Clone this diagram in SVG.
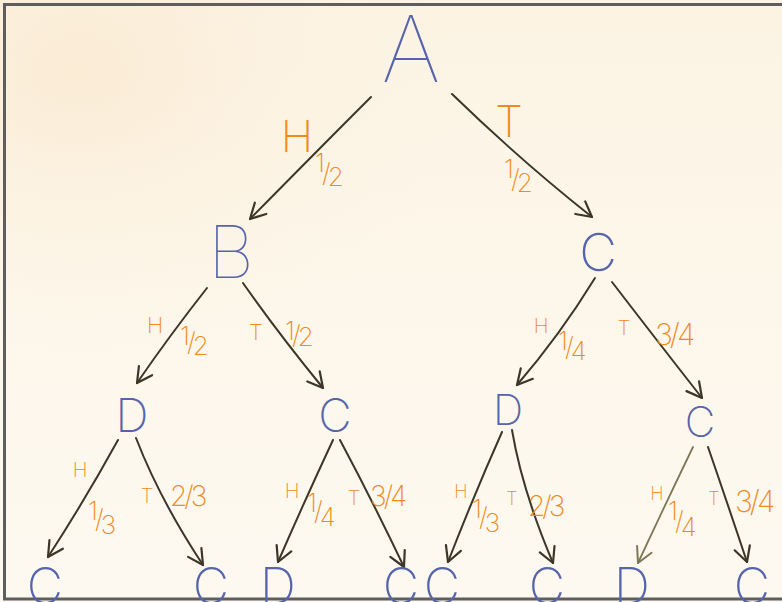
<svg xmlns="http://www.w3.org/2000/svg" width="782" height="602" viewBox="0 0 782 602">
<defs>
<radialGradient id="warm" cx="0.1" cy="0.12" r="0.5">
<stop offset="0" stop-color="#f9e6ca" stop-opacity="0.6"/>
<stop offset="1" stop-color="#fcf3e3" stop-opacity="0"/>
</radialGradient>
<linearGradient id="paper" x1="0" y1="0" x2="0" y2="1">
<stop offset="0" stop-color="#fcf3e3"/>
<stop offset="0.5" stop-color="#fdf7eb"/>
<stop offset="1" stop-color="#fdf9f0"/>
</linearGradient>
<marker id="arr" markerUnits="userSpaceOnUse" markerWidth="30" markerHeight="30" viewBox="-20 -15 30 30" refX="0" refY="0" orient="auto">
<path d="M-15,-8 L0,0 L-15,8" fill="none" stroke="#3b3627" stroke-width="2.2" stroke-linecap="round" stroke-linejoin="round"/>
</marker>
<marker id="arrL" markerUnits="userSpaceOnUse" markerWidth="30" markerHeight="30" viewBox="-20 -15 30 30" refX="0" refY="0" orient="auto">
<path d="M-15,-8 L0,0 L-15,8" fill="none" stroke="#7d7757" stroke-width="2" stroke-linecap="round" stroke-linejoin="round"/>
</marker>
</defs>
<style>
.node{font-family:Inter,"Lato","DejaVu Sans",sans-serif;font-weight:100;fill:#5664ab;text-anchor:middle}
.sm{font-weight:200}
.lab{font-family:Inter,"Lato","DejaVu Sans",sans-serif;font-weight:200;fill:#f08a1c;text-anchor:middle}
.fr{font-family:Inter,"Lato","DejaVu Sans",sans-serif;font-weight:200;fill:#f08a1c;letter-spacing:-3px}
.edge{fill:none;stroke:#3b3627;stroke-width:2;stroke-linecap:round;marker-end:url(#arr)}
.edgeL{fill:none;stroke:#7d7757;stroke-width:1.8;stroke-linecap:round;marker-end:url(#arrL)}
</style>
<rect x="0" y="0" width="782" height="602" fill="url(#paper)"/>
<rect x="0" y="0" width="782" height="602" fill="url(#warm)"/>
<rect x="4.5" y="4.5" width="800" height="594.5" fill="none" stroke="#5e5e5e" stroke-width="3"/>

<g id="connectors">
<path class="edge" d="M371,97 Q318,150 250,219"/>
<path class="edge" d="M452,94 Q520,160 592,217"/>
<path class="edge" d="M207,288 Q170,335 137,383"/>
<path class="edge" d="M243,283 Q278,333 323,388"/>
<path class="edge" d="M595,278 Q560,335 517,385"/>
<path class="edge" d="M612,282 Q655,338 702,398"/>
<path class="edge" d="M118,440 Q85,500 48,557"/>
<path class="edge" d="M136,438 Q160,500 203,565"/>
<path class="edge" d="M333,440 Q305,500 278,562"/>
<path class="edge" d="M340,440 Q372,500 404,567"/>
<path class="edge" d="M502,432 Q474,495 448,562"/>
<path class="edge" d="M512,430 Q522,490 553,563"/>
<path class="edgeL" d="M693,447 Q665,505 638,563"/>
<path class="edge" d="M708,447 Q728,505 747,562"/>
</g>

<g id="labels">
<text class="lab" x="297" y="152" font-size="44">H</text>
<text class="fr" x="315" y="172" font-size="26">1<tspan dy="10">/</tspan><tspan dy="4">2</tspan></text>
<text class="lab" x="509" y="137" font-size="44">T</text>
<text class="fr" x="504" y="178" font-size="26">1<tspan dy="10">/</tspan><tspan dy="4">2</tspan></text>
<text class="lab" x="155" y="333" font-size="22">H</text>
<text class="fr" x="180" y="345" font-size="26">1<tspan dy="6">/</tspan><tspan dy="4">2</tspan></text>
<text class="lab" x="256" y="340" font-size="22">T</text>
<text class="fr" x="285" y="340" font-size="26">1<tspan dy="4">/</tspan><tspan dy="2">2</tspan></text>
<text class="lab" x="541" y="333" font-size="20">H</text>
<text class="fr" x="558" y="350" font-size="26">1<tspan dy="6">/</tspan><tspan dy="4">4</tspan></text>
<text class="lab" x="624" y="335" font-size="20">T</text>
<text class="fr" x="655" y="345" font-size="30">3/4</text>
<text class="lab" x="80" y="477" font-size="20">H</text>
<text class="fr" x="88" y="520" font-size="26">1<tspan dy="8">/</tspan><tspan dy="6">3</tspan></text>
<text class="lab" x="147" y="503" font-size="20">T</text>
<text class="fr" x="170" y="506" font-size="28">2/3</text>
<text class="lab" x="292" y="498" font-size="20">H</text>
<text class="fr" x="307" y="512" font-size="26">1<tspan dy="8">/</tspan><tspan dy="6">4</tspan></text>
<text class="lab" x="354" y="505" font-size="20">T</text>
<text class="fr" x="370" y="506" font-size="28">3/4</text>
<text class="lab" x="461" y="498" font-size="18">H</text>
<text class="fr" x="472" y="518" font-size="26">1<tspan dy="8">/</tspan><tspan dy="6">3</tspan></text>
<text class="lab" x="512" y="505" font-size="18">T</text>
<text class="fr" x="528" y="516" font-size="28">2/3</text>
<text class="lab" x="657" y="500" font-size="18">H</text>
<text class="fr" x="668" y="520" font-size="26">1<tspan dy="10">/</tspan><tspan dy="6">4</tspan></text>
<text class="lab" x="714" y="505" font-size="18">T</text>
<text class="fr" x="735" y="512" font-size="30">3/4</text>
</g>

<g id="nA"><text class="node" x="411" y="82" font-size="92">A</text></g>
<g id="nB"><text class="node" x="231" y="278" font-size="72">B</text></g>
<g id="nC"><text class="node sm" x="598" y="271" font-size="52">C</text></g>
<g id="nBD"><text class="node sm" x="132" y="432" font-size="46">D</text></g>
<g id="nBC"><text class="node sm" x="335" y="432" font-size="46">C</text></g>
<g id="nCD"><text class="node sm" x="508" y="425" font-size="42">D</text></g>
<g id="nCC"><text class="node sm" x="700" y="437" font-size="42">C</text></g>
<g id="nBDC"><text class="node sm" x="45" y="604" font-size="50">C</text></g>
<g id="nBDC2"><text class="node sm" x="211" y="604" font-size="50">C</text></g>
<g id="nBCD"><text class="node sm" x="278" y="604" font-size="50">D</text></g>
<g id="nBCC"><text class="node sm" x="401" y="604" font-size="50">C</text></g>
<g id="nCDC"><text class="node sm" x="442" y="604" font-size="50">C</text></g>
<g id="nCDC2"><text class="node sm" x="547" y="604" font-size="50">C</text></g>
<g id="nCCD"><text class="node sm" x="632" y="604" font-size="50">D</text></g>
<g id="nCCC"><text class="node sm" x="752" y="604" font-size="50">C</text></g>
</svg>
